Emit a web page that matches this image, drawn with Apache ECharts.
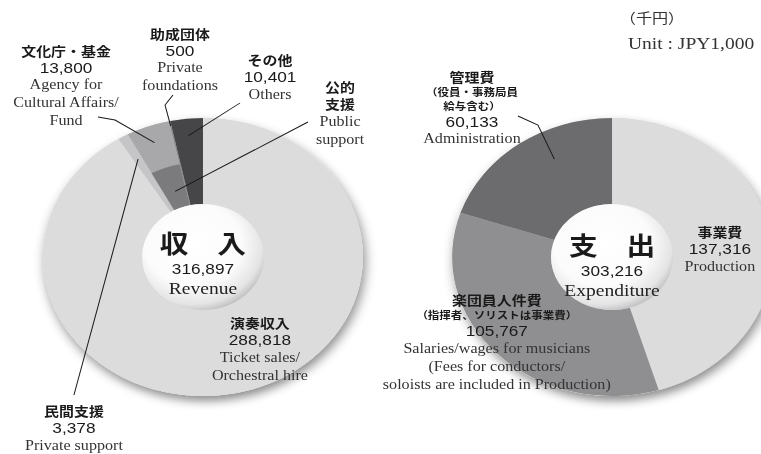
<!DOCTYPE html>
<html lang="ja">
<head>
<meta charset="utf-8">
<title>収入・支出</title>
<script src="https://cdn.jsdelivr.net/npm/echarts@6/dist/echarts.min.js"></script>
<style>
  html, body { margin: 0; padding: 0; background: #fff; overflow: hidden; }
  /* the reference is stretched a little horizontally, so the chart is too */
  #chart { width: 662px; height: 454px; transform: scaleX(1.15); transform-origin: 0 0; }
</style>
</head>
<body>
<div id="chart"></div>
<script>
// 収入 (千円)
const revenueNames = ["演奏収入", "民間支援", "文化庁・基金", "助成団体", "その他"];
const revenueValues = [288818, 3378, 13800, 500, 10401];
const revenueEnglish = [
  ["Ticket sales/", "Orchestral hire"],
  ["Private support"],
  ["Agency for", "Cultural Affairs/", "Fund"],
  ["Private", "foundations"],
  ["Others"],
];
// 公的支援 is drawn as an inner band over 文化庁・基金
const publicSupportName = ["公的", "支援"];
const publicSupportEnglish = ["Public", "support"];
const publicSupportIndex = 2;

// 支出 (千円)
const expenseNames = ["事業費", "楽団員人件費", "管理費"];
const expenseNotes = [[], ["（指揮者、ソリストは事業費）"], ["（役員・事務局員", "給与含む）"]];
const expenseValues = [137316, 105767, 60133];
const expenseEnglish = [
  ["Production"],
  ["Salaries/wages for musicians", "(Fees for conductors/", "soloists are included in Production)"],
  ["Administration"],
];

const centerTitles = ["収　入", "支　出"];
const centerEnglish = ["Revenue", "Expenditure"];
const unitLabels = ["（千円）", "Unit : JPY1,000"];

// styles / layout
const revenueColors = ["#dcdcdd", "#c5c5c7", "#a8a8aa", "#8c8c8e", "#464648"];
const publicColor = "#7b7b7d";
const expenseColors = ["#dcdcdd", "#8f8f91", "#6c6c6f"];
const CLEAR = "rgba(0,0,0,0)";

const LEFT_C = [176.5, 257];
const RIGHT_C = [532.2, 257];
const R_HOLE = 53, R_MID = 95, R_OUT = 139;

const JP = "'Noto Sans CJK JP', sans-serif";
const NUM = "'Liberation Sans', Arial, sans-serif";
const SERIF = "'Liberation Serif', 'DejaVu Serif', serif";

const rich = {
  j: { fontFamily: JP, fontWeight: "bold", fontSize: 13, lineHeight: 17, color: "#1a1a1a" },
  s: { fontFamily: JP, fontWeight: "bold", fontSize: 10, lineHeight: 14, color: "#1a1a1a" },
  n: { fontFamily: NUM, fontSize: 15, lineHeight: 17, color: "#1a1a1a" },
  e: { fontFamily: SERIF, fontSize: 14, lineHeight: 18, color: "#333" },
  T: { fontFamily: JP, fontWeight: "bold", fontSize: 25, lineHeight: 31, color: "#1a1a1a" },
  N: { fontFamily: NUM, fontSize: 15, lineHeight: 20, color: "#1a1a1a" },
  E: { fontFamily: SERIF, fontSize: 17, lineHeight: 20, color: "#222" },
};

// where each label sits; line = label-side points of the leader,
// tip = radius where the leader ends in the slice, at = share of the slice's sweep (default middle)
const revenueSpots = [
  { x: 226, y: 314 },
  { x: 64.3, y: 402, line: [[64.3, 395]], tip: 113 },
  { x: 57.4, y: 41.5, line: [[85.2, 117], [100, 120]], tip: 122 },
  { x: 156.5, y: 24.5, line: [[150.4, 95], [143.5, 105]], tip: 134 },
  { x: 234.8, y: 51, line: [[208.7, 103]], tip: 122 },
];
const publicSpots = { 2: { x: 295.7, y: 78, line: [[267.8, 122]], tip: 70 } };
const expenseSpots = [
  { x: 626, y: 223 },
  { x: 432, y: 291 },
  { x: 410.4, y: 67.5, line: [[450.4, 116], [467.8, 125]], tip: 110, at: 0.62 },
];

const fmt = (v) => v.toLocaleString("en-US");
const sum = (arr) => arr.reduce((a, b) => a + b, 0);

function richText(jp, notes, value, en) {
  const lines = jp.map((s) => `{j|${s}}`)
    .concat(notes.map((s) => `{s|${s}}`))
    .concat(value == null ? [] : [`{n|${fmt(value)}}`])
    .concat(en.map((s) => `{e|${s}}`));
  return lines.join("\n");
}

function placeLabels(spots) {
  return function (params) {
    const spot = spots[params.dataIndex];
    if (!spot) return {};
    return { x: spot.x, y: spot.y, align: "center", verticalAlign: "top" };
  };
}

function baseSeries(center, total) {
  return {
    type: "pie",
    center,
    radius: [0, R_OUT],
    silent: true,
    label: { show: false },
    labelLine: { show: false },
    itemStyle: {
      color: "#d8d8d9",
      shadowBlur: 10,
      shadowOffsetX: 2,
      shadowOffsetY: 5,
      shadowColor: "rgba(0,0,0,0.45)",
    },
    data: [{ value: total, name: "base" }],
  };
}

function ringSeries(id, center, radius, names, values, colors, texts, spots) {
  return {
    id,
    type: "pie",
    center,
    radius,
    silent: true,
    avoidLabelOverlap: false,
    itemStyle: { borderWidth: 0 },
    label: { show: true, position: "outside", rich },
    labelLine: { show: false },
    labelLayout: placeLabels(spots),
    data: names.map((name, i) => ({
      name,
      value: values[i],
      itemStyle: { color: colors[i] },
      label: texts[i] ? { formatter: texts[i] } : { show: false },
    })),
  };
}

function holeSeries(center, total, title, en, topY) {
  return {
    type: "pie",
    center,
    radius: [0, R_HOLE],
    silent: true,
    labelLine: { show: false },
    itemStyle: {
      color: {
        type: "radial", x: 0.42, y: 0.38, r: 0.66,
        colorStops: [
          { offset: 0, color: "#ffffff" },
          { offset: 0.6, color: "#fbfbfb" },
          { offset: 0.86, color: "#e4e4e5" },
          { offset: 1, color: "#b9b9bb" },
        ],
      },
    },
    label: {
      show: true,
      position: "center",
      formatter: `{T|${title}}\n{N|${fmt(total)}}\n{E|${en}}`,
      rich,
    },
    labelLayout: () => ({ x: center[0], y: topY, align: "center", verticalAlign: "top" }),
    data: [{ value: total, name: title }],
  };
}

const revenueTotal = sum(revenueValues);
const expenseTotal = sum(expenseValues);

function buildOption() {
  const publicColors = revenueNames.map((_, i) => (i === publicSupportIndex ? publicColor : CLEAR));
  const revenueTexts = revenueNames.map((name, i) => richText([name], [], revenueValues[i], revenueEnglish[i]));
  const publicTexts = revenueNames.map((_, i) =>
    i === publicSupportIndex ? richText(publicSupportName, [], null, publicSupportEnglish) : null
  );
  const expenseTexts = expenseNames.map((name, i) => richText([name], expenseNotes[i], expenseValues[i], expenseEnglish[i]));

  return {
    animation: false,
    backgroundColor: "#fff",
    title: [
      { text: unitLabels[0], left: 534, top: 5, textStyle: { fontFamily: JP, fontWeight: "normal", fontSize: 14, color: "#333" } },
      { text: unitLabels[1], left: 541, top: 30, textStyle: { fontFamily: SERIF, fontWeight: "normal", fontSize: 17, color: "#333" } },
    ],
    series: [
      baseSeries(LEFT_C, revenueTotal),
      ringSeries("revenue", LEFT_C, [R_HOLE, R_OUT], revenueNames, revenueValues, revenueColors, revenueTexts, revenueSpots),
      ringSeries("public", LEFT_C, [R_HOLE, R_MID], revenueNames, revenueValues, publicColors, publicTexts, publicSpots),
      holeSeries(LEFT_C, revenueTotal, centerTitles[0], centerEnglish[0], 227),

      baseSeries(RIGHT_C, expenseTotal),
      ringSeries("expense", RIGHT_C, [R_HOLE, R_OUT], expenseNames, expenseValues, expenseColors, expenseTexts, expenseSpots),
      holeSeries(RIGHT_C, expenseTotal, centerTitles[1], centerEnglish[1], 229),
    ],
  };
}

// leader lines: label side is fixed, slice side comes from the pie's own sector layout
function leaderLines(chart) {
  const groups = [["revenue", revenueSpots], ["public", publicSpots], ["expense", expenseSpots]];
  const lines = [];
  chart.getModel().getSeries().forEach((seriesModel) => {
    const entry = groups.find((g) => g[0] === seriesModel.id);
    if (!entry) return;
    const spots = entry[1];
    const data = seriesModel.getData();
    Object.keys(spots).forEach((key) => {
      const spot = spots[key];
      if (!spot.line) return;
      const lay = data.getItemLayout(Number(key));
      if (!lay) return;
      const at = spot.at == null ? 0.5 : spot.at;
      const ang = lay.startAngle + (lay.endAngle - lay.startAngle) * at;
      const tip = [lay.cx + spot.tip * Math.cos(ang), lay.cy + spot.tip * Math.sin(ang)];
      lines.push({
        type: "polyline",
        silent: true,
        z: 100,
        shape: { points: spot.line.concat([tip]) },
        style: { stroke: "#1a1a1a", lineWidth: 0.9, fill: null },
      });
    });
  });
  return lines;
}

const chart = echarts.init(document.getElementById("chart"), null, { renderer: "svg" });
chart.setOption(buildOption());
chart.setOption({ graphic: leaderLines(chart) });
</script>
</body>
</html>
